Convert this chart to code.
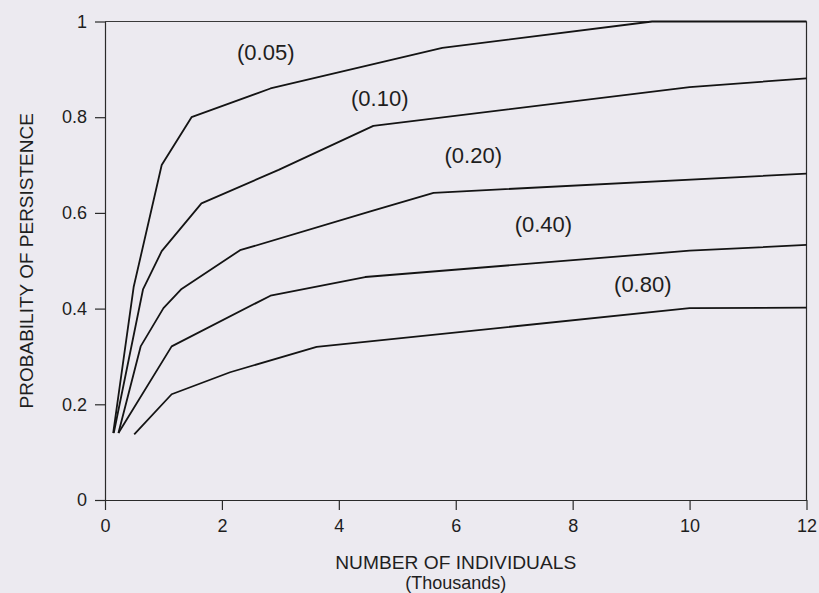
<!DOCTYPE html>
<html>
<head>
<meta charset="utf-8">
<script src="https://cdn.jsdelivr.net/npm/d3@7"></script>
<style>
  body { margin: 0; background: #eceaf0; }
  svg { display: block; font-family: "Liberation Sans", Arial, Helvetica, sans-serif; }
  .axis path, .axis line { stroke: #2a2a2a; stroke-width: 1.2; }
  .axis text { fill: #1e1e1e; font-size: 18px; }
</style>
</head>
<body>
<div id="chart"></div>
<script>
/**
 * DATA
 * */
const labels = ["(0.05)", "(0.10)", "(0.20)", "(0.40)", "(0.80)"];

const x005 = [0.14, 0.49, 0.97, 1.48, 2.83, 5.77, 9.36, 12];
const y005 = [0.14, 0.445, 0.70, 0.80, 0.86, 0.945, 1.0, 1.0];

const x010 = [0.15, 0.65, 0.97, 1.65, 2.97, 4.59, 10.0, 12];
const y010 = [0.14, 0.44, 0.52, 0.62, 0.69, 0.782, 0.863, 0.881];

const x020 = [0.23, 0.61, 1.0, 1.31, 2.31, 4.54, 5.62, 12];
const y020 = [0.14, 0.321, 0.401, 0.441, 0.522, 0.603, 0.642, 0.682];

const x040 = [0.23, 1.14, 2.83, 4.45, 10.0, 12];
const y040 = [0.14, 0.321, 0.427, 0.466, 0.521, 0.533];

const x080 = [0.5, 1.14, 2.14, 3.62, 10.0, 12];
const y080 = [0.137, 0.221, 0.267, 0.32, 0.401, 0.402];

// where each curve's label sits (data units)
const labelX = [2.75, 4.7, 6.3, 7.5, 9.2];
const labelY = [0.935, 0.84, 0.72, 0.575, 0.451];

const xTicks = [0, 2, 4, 6, 8, 10, 12];
const yTicks = [0, 0.2, 0.4, 0.6, 0.8, 1];

const series = [
  { xs: x005, ys: y005 },
  { xs: x010, ys: y010 },
  { xs: x020, ys: y020 },
  { xs: x040, ys: y040 },
  { xs: x080, ys: y080 }
];

/**
 * CONSTANTS
 * */
const width = 819,
  height = 593,
  margin = { top: 21.5, bottom: 93, left: 105, right: 12.5 };

const svg = d3
  .select("#chart")
  .append("svg")
  .attr("width", width)
  .attr("height", height);

// SCALES
const xScale = d3
  .scaleLinear()
  .domain([0, 12])
  .range([margin.left, width - margin.right]);

const yScale = d3
  .scaleLinear()
  .domain([0, 1])
  .range([height - margin.bottom, margin.top]);

// frame: top and right edges
svg
  .append("line")
  .attr("x1", xScale(0))
  .attr("x2", xScale(12))
  .attr("y1", yScale(1))
  .attr("y2", yScale(1))
  .attr("stroke", "#3a3a3a")
  .attr("stroke-width", 1.2);

svg
  .append("line")
  .attr("x1", xScale(12))
  .attr("x2", xScale(12))
  .attr("y1", yScale(1))
  .attr("y2", yScale(0))
  .attr("stroke", "#2a2a2a")
  .attr("stroke-width", 1.2);

// AXES
const xAxis = d3
  .axisBottom(xScale)
  .tickValues(xTicks)
  .tickSize(10)
  .tickPadding(9)
  .tickSizeOuter(0);

const yAxis = d3
  .axisLeft(yScale)
  .tickValues(yTicks)
  .tickSize(10)
  .tickPadding(8)
  .tickSizeOuter(0)
  .tickFormat(d3.format("~g"));

svg
  .append("g")
  .attr("class", "axis x-axis")
  .attr("transform", `translate(0,${yScale(0)})`)
  .call(xAxis);

svg
  .append("g")
  .attr("class", "axis y-axis")
  .attr("transform", `translate(${xScale(0)},0)`)
  .call(yAxis);

// axis titles
svg
  .append("text")
  .attr("x", (xScale(0) + xScale(12)) / 2)
  .attr("y", 569)
  .attr("text-anchor", "middle")
  .attr("font-size", 19.2)
  .attr("fill", "#1e1e1e")
  .text("NUMBER OF INDIVIDUALS");

svg
  .append("text")
  .attr("x", (xScale(0) + xScale(12)) / 2)
  .attr("y", 589)
  .attr("text-anchor", "middle")
  .attr("font-size", 18)
  .attr("fill", "#1e1e1e")
  .text("(Thousands)");

svg
  .append("text")
  .attr("transform", `translate(33,${(yScale(0) + yScale(1)) / 2}) rotate(-90)`)
  .attr("text-anchor", "middle")
  .attr("font-size", 19)
  .attr("fill", "#1e1e1e")
  .text("PROBABILITY OF PERSISTENCE");

// CURVES
const line = d3
  .line()
  .x(d => xScale(d[0]))
  .y(d => yScale(d[1]));

svg
  .selectAll(".curve")
  .data(series)
  .join("path")
  .attr("class", "curve")
  .attr("fill", "none")
  .attr("stroke", "#141414")
  .attr("stroke-width", 1.8)
  .attr("stroke-linejoin", "round")
  .attr("d", s => line(s.xs.map((x, i) => [x, s.ys[i]])));

// curve labels
svg
  .selectAll(".curve-label")
  .data(labels)
  .join("text")
  .attr("class", "curve-label")
  .attr("x", (d, i) => xScale(labelX[i]))
  .attr("y", (d, i) => yScale(labelY[i]))
  .attr("text-anchor", "middle")
  .attr("dominant-baseline", "central")
  .attr("font-size", 22)
  .attr("fill", "#1e1e1e")
  .text(d => d);
</script>
</body>
</html>
